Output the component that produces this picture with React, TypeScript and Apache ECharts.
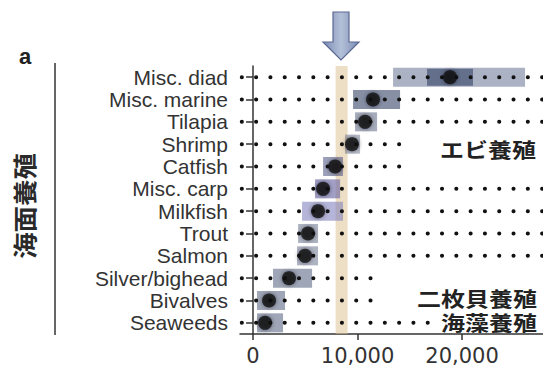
import React, { useEffect, useRef } from "react";
import * as echarts from "echarts";

// Species groups, top to bottom
const species = [
  "Misc. diad",
  "Misc. marine",
  "Tilapia",
  "Shrimp",
  "Catfish",
  "Misc. carp",
  "Milkfish",
  "Trout",
  "Salmon",
  "Silver/bighead",
  "Bivalves",
  "Seaweeds",
];

// Central estimate for each group
const centralValue = [18850, 11480, 10720, 9470, 7850, 6700, 6220, 5260, 4980, 3440, 1530, 1150];

// Range of estimates for each group
const rangeLow = [13400, 9570, 9760, 8800, 6700, 5930, 4690, 4310, 4210, 1910, 380, 380];
const rangeHigh = [26030, 14070, 11870, 10240, 8610, 8330, 8610, 6220, 6220, 5650, 3060, 2870];

// Inner (denser) part of the Misc. diad range
const diadCoreLow = 16650;
const diadCoreHigh = 21050;

// Where each row's dotted guide ends
const guideEnd = [27750, 27750, 27750, 15200, 15200, 27750, 27750, 27750, 27750, 12440, 12440, 17000];

// Reference band
const bandLow = 7900;
const bandHigh = 9050;

// Axis ticks
const xTicks = [0, 10000, 20000];
const xMin = -1250;
const xMax = 27750;

const boxTint: Record<string, string> = {
  "Misc. diad": "rgba(125,137,165,0.65)",
  "Misc. marine": "rgba(95,106,135,0.75)",
  Tilapia: "rgba(95,106,135,0.55)",
  Shrimp: "rgba(95,106,135,0.45)",
  Catfish: "rgba(90,96,140,0.6)",
  "Misc. carp": "rgba(100,96,160,0.6)",
  Milkfish: "rgba(120,120,185,0.55)",
  Trout: "rgba(95,106,135,0.5)",
  Salmon: "rgba(95,106,135,0.5)",
  "Silver/bighead": "rgba(95,106,135,0.6)",
  Bivalves: "rgba(95,106,135,0.6)",
  Seaweeds: "rgba(95,106,135,0.6)",
};

const sans = "'Liberation Sans', Arial, sans-serif";
const wide = "'DejaVu Sans', sans-serif";
const cjk = "'Noto Sans CJK JP', sans-serif";

export default function App() {
  const ref = useRef<HTMLDivElement>(null);

  useEffect(() => {
    if (!ref.current) return;
    const chart = echarts.init(ref.current, undefined, { renderer: "svg" });

    const boxData = species.map((s, i) => [rangeLow[i], rangeHigh[i], i]);
    const coreData = [[diadCoreLow, diadCoreHigh, 0]];

    const rectItem = (height: number, fill: (idx: number) => string) =>
      (params: any, api: any) => {
        const lo = api.value(0);
        const hi = api.value(1);
        const row = api.value(2);
        const a = api.coord([lo, row]);
        const b = api.coord([hi, row]);
        return {
          type: "rect",
          shape: { x: a[0], y: a[1] - height / 2, width: b[0] - a[0], height },
          style: { fill: fill(row) },
        };
      };

    const guideSeries = species.map((s, i) => ({
      type: "line",
      name: "guide-" + s,
      data: [
        [-1080, i],
        [guideEnd[i], i],
      ],
      symbol: "none",
      silent: true,
      z: 3,
      lineStyle: { color: "#111", width: 4, type: [0.1, 14.2], cap: "round" },
    }));

    const option: any = {
      animation: false,
      grid: { left: 240, right: 0, top: 66, bottom: 38, containLabel: false },
      xAxis: {
        type: "value",
        min: xMin,
        max: xMax,
        splitLine: { show: false },
        axisLine: { show: true, lineStyle: { color: "#333", width: 1.5 } },
        axisTick: { show: true, length: 6, customValues: xTicks, lineStyle: { color: "#333", width: 1.5 } },
        axisLabel: {
          customValues: xTicks,
          fontFamily: wide,
          fontSize: 21,
          color: "#333",
          margin: 11,
          formatter: (v: number) => v.toLocaleString("en-US"),
        },
      },
      yAxis: {
        type: "category",
        data: species,
        inverse: true,
        axisLine: { show: true, lineStyle: { color: "#333", width: 1.5 } },
        axisTick: { show: true, alignWithLabel: true, length: 7, lineStyle: { color: "#333", width: 1.5 } },
        axisLabel: { interval: 0, fontFamily: sans, fontSize: 21, lineHeight: 21, color: "#333", margin: 12 },
        splitLine: { show: false },
      },
      series: [
        {
          type: "custom",
          name: "range",
          renderItem: rectItem(19, (r) => boxTint[species[r]]),
          encode: { x: [0, 1], y: 2 },
          data: boxData,
          z: 1,
          silent: true,
          markArea: {
            silent: true,
            itemStyle: { color: "rgba(222,196,150,0.55)" },
            data: [[{ xAxis: bandLow }, { xAxis: bandHigh }]],
          },
        },
        {
          type: "custom",
          name: "core",
          renderItem: rectItem(17, () => "rgba(70,82,115,0.7)"),
          encode: { x: [0, 1], y: 2 },
          data: coreData,
          z: 2,
          silent: true,
        },
        ...guideSeries,
        {
          type: "scatter",
          name: "central",
          data: centralValue.map((v, i) => [v, i]),
          symbolSize: 14,
          z: 5,
          itemStyle: { color: "#0b0b12", shadowBlur: 4, shadowColor: "rgba(0,0,20,0.6)" },
        },
      ],
      graphic: [
        {
          type: "text",
          x: 25,
          y: 56,
          style: { text: "a", fontFamily: sans, fontWeight: "bold", fontSize: 22, fill: "#222", align: "center", verticalAlign: "middle" },
        },
        {
          type: "text",
          x: 24,
          y: 206,
          rotation: Math.PI / 2,
          scaleX: 1.1,
          style: { text: "海面養殖", fontFamily: cjk, fontWeight: "bold", fontSize: 24, fill: "#2a2a2a", align: "center", verticalAlign: "middle" },
        },
        {
          type: "line",
          shape: { x1: 55, y1: 63, x2: 55, y2: 335 },
          style: { stroke: "#333", lineWidth: 1.5 },
        },
        {
          type: "polygon",
          shape: {
            points: [
              [333, 12],
              [349, 12],
              [349, 42],
              [359, 42],
              [341, 60],
              [323, 42],
              [333, 42],
            ],
          },
          style: {
            fill: new echarts.graphic.LinearGradient(0, 0, 1, 0, [
              { offset: 0, color: "#7b8cb5" },
              { offset: 0.5, color: "#b4c0d8" },
              { offset: 1, color: "#7b8cb5" },
            ]),
            stroke: "#5a6991",
            lineWidth: 1.2,
          },
        },
        {
          type: "text",
          x: 536,
          y: 149,
          scaleX: 1.2,
          z: 10,
          style: { text: "エビ養殖", fontFamily: cjk, fontWeight: "bold", fontSize: 20, fill: "#222", align: "right", verticalAlign: "middle", backgroundColor: "#fff" },
        },
        {
          type: "text",
          x: 537,
          y: 298,
          scaleX: 1.2,
          z: 10,
          style: { text: "二枚貝養殖", fontFamily: cjk, fontWeight: "bold", fontSize: 20, fill: "#222", align: "right", verticalAlign: "middle" },
        },
        {
          type: "text",
          x: 537,
          y: 322,
          scaleX: 1.2,
          z: 10,
          style: { text: "海藻養殖", fontFamily: cjk, fontWeight: "bold", fontSize: 20, fill: "#222", align: "right", verticalAlign: "middle", backgroundColor: "#fff" },
        },
      ],
    };

    chart.setOption(option);
    return () => chart.dispose();
  }, []);

  return (
    <div
      ref={ref}
      style={{ position: "fixed", left: 0, top: 0, width: 543, height: 372, background: "#fff" }}
    />
  );
}
